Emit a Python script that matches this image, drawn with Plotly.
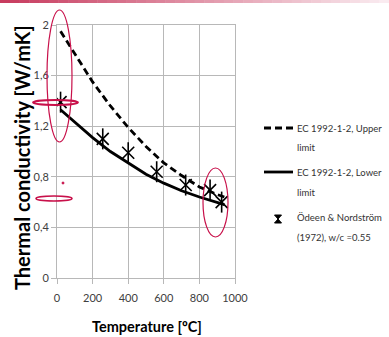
import plotly.graph_objects as go

# ---- data ----
temps = [20, 100, 200, 300, 400, 500, 600, 700, 800, 900, 940]
upper = [1.95, 1.77, 1.55, 1.36, 1.19, 1.04, 0.91, 0.81, 0.72, 0.66, 0.64]
lower = [1.33, 1.23, 1.11, 1.00, 0.91, 0.82, 0.75, 0.69, 0.64, 0.60, 0.58]
exp_t = [20, 257, 400, 560, 723, 860, 925]
exp_k = [1.39, 1.10, 0.99, 0.84, 0.735, 0.695, 0.60]

x_ticks = [0, 200, 400, 600, 800, 1000]
y_ticks = [0, 0.4, 0.8, 1.2, 1.6, 2.0]
y_ticktext = ["0", "0,4", "0,8", "1,2", "1,6", "2"]

x_title = "Temperature [ºC]"
y_title = "Thermal conductivity [W/mK]"
legend_lines = [["EC 1992-1-2, Upper", "limit"],
                ["EC 1992-1-2, Lower", "limit"],
                ["Ödeen & Nordström", "(1972), w/c =0.55"]]

W, H = 389, 337
L, R, T, B = 57, 235, 25, 278  # plot area pixels
FONT = "Lato"
RED = "#c8104a"

def px(x):
    return (x - L) / (R - L)

def py(y):
    return (B - y) / (B - T)

fig = go.Figure()
fig.add_trace(go.Scatter(x=temps, y=upper, mode="lines", showlegend=False,
                         line=dict(color="black", width=2.8, dash="7px,4px")))
fig.add_trace(go.Scatter(x=temps, y=lower, mode="lines", showlegend=False,
                         line=dict(color="black", width=2.8)))
fig.add_trace(go.Scatter(x=exp_t, y=exp_k, mode="markers", showlegend=False,
                         marker=dict(symbol="x-thin-open", size=12, color="black",
                                     line=dict(color="black", width=1.6))))
fig.add_trace(go.Scatter(x=exp_t, y=exp_k, mode="markers", showlegend=False,
                         marker=dict(symbol="line-ns-open", size=15, color="black",
                                     line=dict(color="black", width=1.6))))

shapes = []
# top gradient bar
n = 40
for i in range(n):
    t = i / (n - 1)
    r = int(200 + (250 - 200) * t)
    g = int(60 + (235 - 60) * t)
    b = int(95 + (240 - 95) * t)
    shapes.append(dict(type="rect", xref="paper", yref="paper",
                       x0=px(i * W / n), x1=px((i + 1) * W / n + 0.5),
                       y0=py(3), y1=py(0), line=dict(width=0),
                       fillcolor=f"rgb({r},{g},{b})", layer="below"))
# red hand annotations
shapes.append(dict(type="circle", xref="paper", yref="paper",
                   x0=px(47), x1=px(72), y0=py(142), y1=py(10),
                   line=dict(color=RED, width=1.2)))
shapes.append(dict(type="circle", xref="paper", yref="paper",
                   x0=px(203), x1=px(228), y0=py(237), y1=py(168),
                   line=dict(color=RED, width=1.2)))
shapes.append(dict(type="circle", xref="paper", yref="paper",
                   x0=px(33), x1=px(78), y0=py(105), y1=py(100),
                   line=dict(color=RED, width=1.8)))
shapes.append(dict(type="circle", xref="paper", yref="paper",
                   x0=px(36), x1=px(72), y0=py(201), y1=py(196),
                   line=dict(color=RED, width=1.6)))
shapes.append(dict(type="circle", xref="paper", yref="paper",
                   x0=px(62), x1=px(64), y0=py(184), y1=py(182),
                   line=dict(color=RED, width=1), fillcolor=RED))

# manual legend (samples + text)
shapes.append(dict(type="line", xref="paper", yref="paper",
                   x0=px(264), x1=px(293), y0=py(128), y1=py(128),
                   line=dict(color="black", width=2.8, dash="7px,4px")))
shapes.append(dict(type="line", xref="paper", yref="paper",
                   x0=px(264), x1=px(293), y0=py(172), y1=py(172),
                   line=dict(color="black", width=2.8)))
mx, my = 278, 219
hg = (f"M {px(mx-3.5)} {py(my-4)} L {px(mx+3.5)} {py(my-4)} "
      f"L {px(mx-3.5)} {py(my+4)} L {px(mx+3.5)} {py(my+4)} Z")
shapes.append(dict(type="path", xref="paper", yref="paper", path=hg,
                   fillcolor="black", line=dict(color="black", width=1)))

annotations = []
legend_y = [(128, 147), (172, 192), (217, 237)]
for lines, ys in zip(legend_lines, legend_y):
    for txt, yy in zip(lines, ys):
        annotations.append(dict(text=txt, xref="paper", yref="paper",
                                x=px(295), y=py(yy), xanchor="left", yanchor="middle",
                                showarrow=False,
                                font=dict(family=FONT, size=9.5, color="#333333")))
# axis titles
annotations.append(dict(text=f"<b>{x_title}</b>", xref="paper", yref="paper",
                        x=px(147), y=py(326), xanchor="center", yanchor="middle",
                        showarrow=False,
                        font=dict(family=FONT, size=14.5, color="black")))
annotations.append(dict(text=f"<b>{y_title}</b>", xref="paper", yref="paper",
                        x=px(22), y=py(158), xanchor="center", yanchor="middle",
                        showarrow=False, textangle=-90,
                        font=dict(family=FONT, size=20, color="black")))

fig.update_layout(
    width=W, height=H,
    margin=dict(l=L, r=W - R, t=T, b=H - B, pad=0, autoexpand=False),
    paper_bgcolor="white", plot_bgcolor="white",
    font=dict(family=FONT, color="#404040", size=11),
    shapes=shapes, annotations=annotations, showlegend=False,
    xaxis=dict(range=[0, 1000], tickvals=x_ticks, showgrid=True, automargin=False,
               gridcolor="#b8b8b8", gridwidth=1, showline=True, mirror=True,
               linecolor="#b8b8b8", linewidth=1, ticks="outside", ticklen=5,
               tickcolor="#b8b8b8", zeroline=False, ticklabelstandoff=5,
               tickfont=dict(size=11, color="#404040")),
    yaxis=dict(range=[0, 2], tickvals=y_ticks, ticktext=y_ticktext, showgrid=True,
               automargin=False,
               gridcolor="#b8b8b8", gridwidth=1, showline=True, mirror=True,
               linecolor="#b8b8b8", linewidth=1, ticks="outside", ticklen=5,
               tickcolor="#b8b8b8", zeroline=False,
               tickfont=dict(size=11, color="#404040")),
)

fig.write_html("out.html")
